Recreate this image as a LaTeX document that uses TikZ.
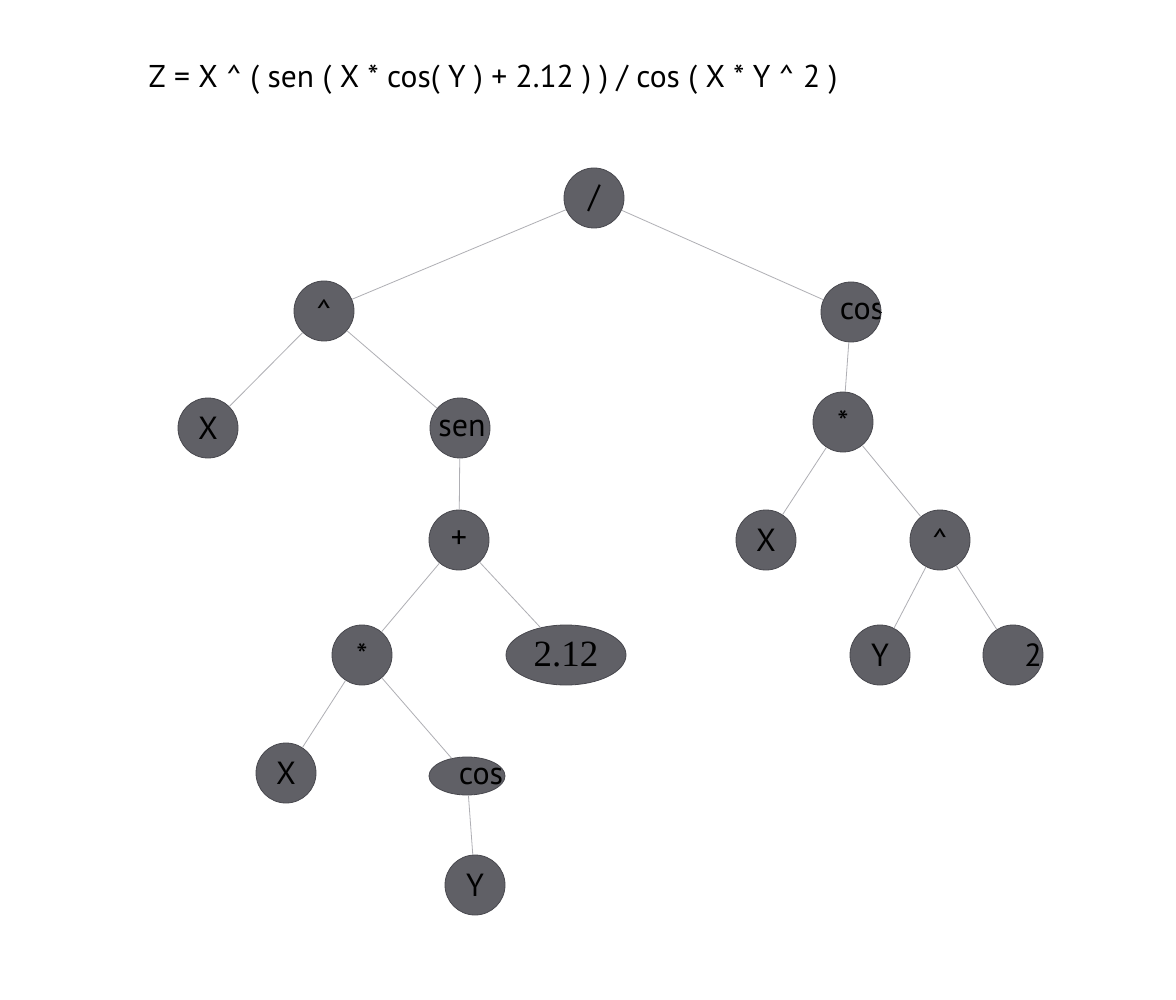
\documentclass[tikz,border=0pt]{standalone}
\usepackage{fontspec}
\setmainfont{PT Sans}
\newfontfamily\numserif{Liberation Serif}
\usetikzlibrary{shapes.geometric}
\definecolor{nodegray}{RGB}{96,96,102}
\definecolor{nodeedge}{RGB}{72,72,78}
\definecolor{edgegray}{RGB}{175,175,180}
\tikzset{
  nd/.style={circle, fill=nodegray, draw=nodeedge, line width=0.8pt, minimum size=60pt, inner sep=0pt, font=\fontsize{32}{36}\selectfont},
  el/.style={ellipse, fill=nodegray, draw=nodeedge, line width=0.8pt, inner sep=0pt, font=\fontsize{32}{36}\selectfont},
  offtext/.style 2 args={path picture={\node[font=\fontsize{32}{36}\selectfont] at ([xshift=#1]path picture bounding box.center) {#2};}},
  edge/.style={draw=edgegray, line width=0.8pt}
}
\begin{document}
\begin{tikzpicture}[x=1pt,y=-1pt]
\useasboundingbox[fill=white] (0,0) rectangle (1176,1000);
\node[font=\fontsize{31.5}{38}\selectfont] (title) at (493,80) {Z = X \^{} ( sen ( X * cos( Y ) + 2.12 ) ) / cos ( X * Y \^{} 2 )};
\node[nd] (root) at (594,198) {/};
\node[nd] (pow1) at (324,311) {\^{}};
\node[nd, offtext={11pt}{cos}] (cosR) at (851,312) {};
\node[nd] (x1) at (208,428) {X};
\node[nd, offtext={2pt}{sen}] (sen) at (460,428) {};
\node[nd] (plus) at (459,540) {+};
\node[nd] (mul1) at (362,655) {*};
\node[el, minimum width=120pt, minimum height=60pt, font=\fontsize{37}{40}\numserif] (c212) at (566,655) {2.12};
\node[nd] (x2) at (286,773) {X};
\node[el, minimum width=76pt, minimum height=38pt, offtext={14pt}{cos}] (cosL) at (467,776) {};
\node[nd] (y1) at (475,885) {Y};
\node[nd] (mul2) at (843,422) {*};
\node[nd] (x3) at (766,540) {X};
\node[nd] (pow2) at (940,540) {\^{}};
\node[nd] (y2) at (880,655) {Y};
\node[nd, offtext={20pt}{2}] (two) at (1013,655) {};
\path[edge] (root) -- (pow1);
\path[edge] (root) -- (cosR);
\path[edge] (pow1) -- (x1);
\path[edge] (pow1) -- (sen);
\path[edge] (sen) -- (plus);
\path[edge] (plus) -- (mul1);
\path[edge] (plus) -- (c212);
\path[edge] (mul1) -- (x2);
\path[edge] (mul1) -- (cosL);
\path[edge] (cosL) -- (y1);
\path[edge] (cosR) -- (mul2);
\path[edge] (mul2) -- (x3);
\path[edge] (mul2) -- (pow2);
\path[edge] (pow2) -- (y2);
\path[edge] (pow2) -- (two);
\end{tikzpicture}
\end{document}
